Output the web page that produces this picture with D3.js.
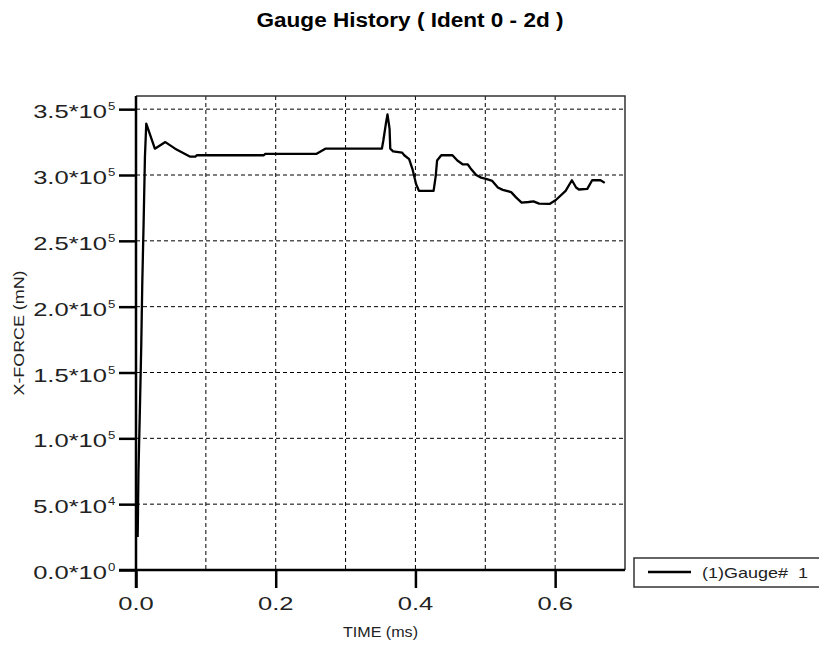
<!DOCTYPE html>
<html>
<head>
<meta charset="utf-8">
<script src="https://cdn.jsdelivr.net/npm/d3@7"></script>
<style>
  body { margin: 0; background: #fff; }
  svg { display: block; font-family: "Liberation Sans", Arial, sans-serif; }
</style>
</head>
<body>
<svg id="chart" width="819" height="648"></svg>
<script>
'use strict'

// gauge history, time in ms, x-force in mN
const timeMs = [
	0.0024, 0.0035, 0.0055, 0.0075, 0.009, 0.011, 0.0128, 0.0147,
	0.027, 0.042, 0.056, 0.077, 0.085, 0.087, 0.183, 0.185, 0.258, 0.271,
	0.352, 0.354, 0.358, 0.360, 0.363, 0.364, 0.368, 0.381, 0.384, 0.391,
	0.396, 0.401, 0.405, 0.426, 0.429, 0.431, 0.437, 0.453, 0.460, 0.468,
	0.475, 0.479, 0.487, 0.494, 0.501, 0.510, 0.518, 0.525, 0.537, 0.544,
	0.552, 0.562, 0.569, 0.577, 0.592, 0.601, 0.615, 0.624, 0.630, 0.634,
	0.646, 0.653, 0.665, 0.671
];
const xForce = [
	25000, 74000, 120000, 170000, 218000, 266000, 314000, 339000,
	320000, 325000, 320000, 314000, 314000, 315000, 315000, 316000, 316000, 320000,
	320000, 326000, 340000, 346000, 335000, 320000, 318000, 317000, 315000, 312000,
	304000, 293000, 288000, 288000, 299000, 311000, 315000, 315000, 311000, 308000,
	308000, 305000, 300000, 298000, 297000, 295500, 290500, 288700, 287000, 283000,
	279000, 279500, 280000, 278300, 278000, 281000, 288000, 296000, 290500, 289000,
	289500, 296000, 296000, 294000
];

const xTicks = [0.0, 0.2, 0.4, 0.6];
const xTickLabels = ['0.0', '0.2', '0.4', '0.6'];
const xGrid = [0.1, 0.2, 0.3, 0.4, 0.5, 0.6];

const yTicks = [0, 50000, 100000, 150000, 200000, 250000, 300000, 350000];
const yTickMantissa = ['0.0', '5.0', '1.0', '1.5', '2.0', '2.5', '3.0', '3.5'];
const yTickExponent = ['0', '4', '5', '5', '5', '5', '5', '5'];

const seriesName = '(1)Gauge#\u00a0 1';
const titleText = 'Gauge History ( Ident 0 - 2d )';
const xTitle = 'TIME (ms)';
const yTitle = 'X-FORCE (mN)';

var plotL = 136, plotT = 96, plotR = 625, plotB = 570;
var stretch = 1.42;

var svg = d3.select('#chart');

var x = d3.scaleLinear()
	.domain([0, 0.7])
	.range([plotL, plotR]);

var y = d3.scaleLinear()
	.domain([0, 360000])
	.range([plotB, plotT]);

// grid
svg.append('g')
	.selectAll('line')
	.data(xGrid)
	.enter().append('line')
	.attr('x1', function(d) { return x(d); })
	.attr('x2', function(d) { return x(d); })
	.attr('y1', plotT)
	.attr('y2', plotB)
	.attr('stroke', '#000')
	.attr('stroke-width', 1)
	.attr('stroke-dasharray', '4,3');

svg.append('g')
	.selectAll('line')
	.data(yTicks.slice(1))
	.enter().append('line')
	.attr('x1', plotL)
	.attr('x2', plotR)
	.attr('y1', function(d) { return y(d); })
	.attr('y2', function(d) { return y(d); })
	.attr('stroke', '#000')
	.attr('stroke-width', 1)
	.attr('stroke-dasharray', '4,3');

// top / right frame
svg.append('path')
	.attr('d', 'M' + plotL + ',' + plotT + 'H' + plotR + 'V' + plotB)
	.attr('fill', 'none')
	.attr('stroke', '#333')
	.attr('stroke-width', 1.5);

// axes
var yAxis = svg.append('g')
	.attr('transform', 'translate(' + plotL + ',0)')
	.call(d3.axisLeft(y).tickValues(yTicks).tickSize(17).tickFormat(''));
yAxis.select('.domain').remove();
yAxis.selectAll('line').attr('stroke-width', 2.5);

var xAxis = svg.append('g')
	.attr('transform', 'translate(0,' + plotB + ')')
	.call(d3.axisBottom(x).tickValues(xTicks).tickSize(18).tickFormat(''));
xAxis.select('.domain').remove();
xAxis.selectAll('line').attr('stroke-width', 2.5);

svg.append('line')
	.attr('x1', plotL).attr('x2', plotL)
	.attr('y1', plotT).attr('y2', plotB + 18)
	.attr('stroke', '#000').attr('stroke-width', 2.5);
svg.append('line')
	.attr('x1', plotL - 17).attr('x2', plotR)
	.attr('y1', plotB).attr('y2', plotB)
	.attr('stroke', '#000').attr('stroke-width', 2.5);

// tick labels
var yLab = svg.append('g').selectAll('g')
	.data(yTicks)
	.enter().append('g');

yLab.append('text')
	.attr('transform', function(d) { return 'translate(107,' + (y(d) + 9) + ') scale(' + stretch + ',1)'; })
	.attr('text-anchor', 'end')
	.style('font-size', '18px')
	.attr('fill', '#222')
	.text(function(d, i) { return yTickMantissa[i] + '*10'; });

yLab.append('text')
	.attr('transform', function(d) { return 'translate(108,' + (y(d) + 1) + ') scale(1.2,1)'; })
	.style('font-size', '11px')
	.attr('fill', '#222')
	.text(function(d, i) { return yTickExponent[i]; });

svg.append('g').selectAll('text')
	.data(xTicks)
	.enter().append('text')
	.attr('transform', function(d) { return 'translate(' + x(d) + ',610) scale(' + stretch + ',1)'; })
	.attr('text-anchor', 'middle')
	.style('font-size', '18px')
	.attr('fill', '#222')
	.text(function(d, i) { return xTickLabels[i]; });

// titles
svg.append('text')
	.attr('x', 410)
	.attr('y', 27)
	.attr('text-anchor', 'middle')
	.attr('textLength', 307)
	.attr('lengthAdjust', 'spacingAndGlyphs')
	.style('font-size', '20px')
	.style('font-weight', 'bold')
	.text(titleText);

svg.append('text')
	.attr('x', (plotL + plotR) / 2)
	.attr('y', 637)
	.attr('text-anchor', 'middle')
	.attr('textLength', 75)
	.attr('lengthAdjust', 'spacingAndGlyphs')
	.style('font-size', '14px')
	.attr('fill', '#222')
	.text(xTitle);

svg.append('text')
	.attr('transform', 'translate(24,' + ((plotT + plotB) / 2) + ') rotate(-90)')
	.attr('text-anchor', 'middle')
	.attr('textLength', 125)
	.attr('lengthAdjust', 'spacingAndGlyphs')
	.style('font-size', '14px')
	.attr('fill', '#222')
	.text(yTitle);

// data line
var line = d3.line()
	.x(function(d, i) { return x(timeMs[i]); })
	.y(function(d) { return y(d); });

svg.append('path')
	.datum(xForce)
	.attr('d', line)
	.attr('fill', 'none')
	.attr('stroke', '#000')
	.attr('stroke-width', 2.3)
	.attr('stroke-linejoin', 'round');

// legend
var legend = svg.append('g').attr('transform', 'translate(634,558)');
legend.append('rect')
	.attr('width', 220)
	.attr('height', 29)
	.attr('fill', '#fff')
	.attr('stroke', '#333')
	.attr('stroke-width', 1.5);
legend.append('line')
	.attr('x1', 14).attr('x2', 57)
	.attr('y1', 14).attr('y2', 14)
	.attr('stroke', '#000').attr('stroke-width', 2.3);
legend.append('text')
	.attr('x', 68)
	.attr('y', 20)
	.attr('textLength', 106)
	.attr('lengthAdjust', 'spacingAndGlyphs')
	.style('font-size', '15px')
	.attr('fill', '#222')
	.text(seriesName);
</script>
</body>
</html>
